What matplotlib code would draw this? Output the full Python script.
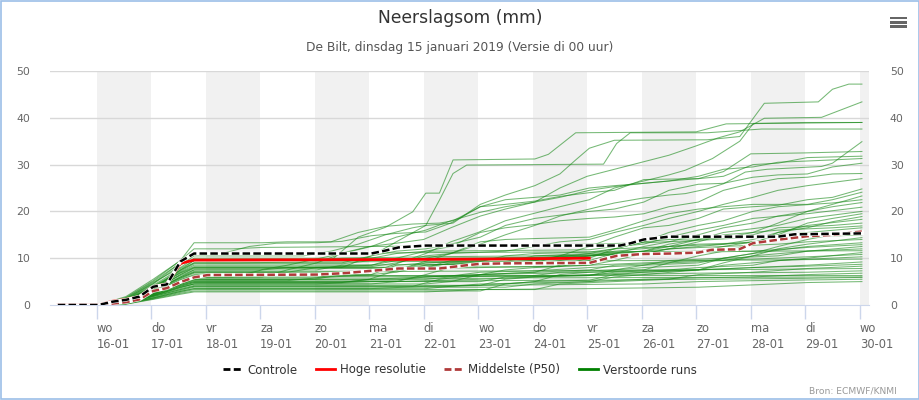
import matplotlib
matplotlib.use("Agg")
import matplotlib.pyplot as plt
from matplotlib.lines import Line2D
from matplotlib.patches import Rectangle

# x axis: days since 15-01-2019 00:00 (local time)
day_ticks = list(range(1, 16))
day_labels = ["wo\n16-01", "do\n17-01", "vr\n18-01", "za\n19-01", "zo\n20-01",
              "ma\n21-01", "di\n22-01", "wo\n23-01", "do\n24-01", "vr\n25-01",
              "za\n26-01", "zo\n27-01", "ma\n28-01", "di\n29-01", "wo\n30-01"]
shaded_days = [1, 3, 5, 7, 9, 11, 13, 15]
y_ticks = [0, 10, 20, 30, 40, 50]

# Controle
ctrl_days = [0.29, 1.04, 1.29, 1.54, 1.79, 2.04, 2.29, 2.54, 2.79, 6.04, 6.29, 6.54,
             7.04, 10.6, 10.8, 11.04, 11.5, 13.5, 13.8, 15.04]
ctrl_mm = [0, 0, 0.7, 1.1, 1.8, 3.9, 4.4, 9.3, 11.0, 11.0, 11.6, 12.3,
           12.7, 12.7, 13.2, 14.0, 14.6, 14.6, 15.1, 15.3]

# Hoge resolutie (tot 25-01)
hres_days = [0.29, 1.04, 1.29, 1.54, 1.79, 2.04, 2.29, 2.54, 2.79, 6.0, 8.0, 10.04]
hres_mm = [0, 0, 0.8, 1.2, 1.8, 3.9, 4.5, 8.9, 9.6, 9.7, 9.8, 10.0]

# Middelste (P50)
p50_days = [0.29, 1.04, 1.29, 1.54, 1.79, 2.04, 2.29, 2.54, 2.79, 3.04, 5.04, 5.54,
            6.04, 6.54, 7.29, 7.79, 8.04, 8.54, 10.04, 10.54, 11.04, 11.54, 12.04,
            12.29, 12.79, 13.04, 13.54, 14.04, 14.54, 15.04]
p50_mm = [0, 0, 0.3, 0.6, 1.2, 3.0, 3.6, 4.9, 5.9, 6.4, 6.5, 6.8,
          7.3, 7.8, 7.8, 8.5, 8.8, 8.9, 9.0, 10.5, 10.9, 11.0, 11.2,
          11.8, 11.9, 13.2, 14.0, 14.7, 15.0, 15.7]

# Verstoorde runs: (dag, mm) knikpunten, alle runs starten op 0
run_start = [(0.29, 0.0), (1.04, 0.0)]
runs = [
    [(1.54, 1.0), (2.04, 3.5), (2.54, 7.5), (2.79, 9.5), (5.3, 9.5), (5.8, 14.5), (6.3, 16.6), (6.8, 19.9), (7.04, 23.9), (7.29, 23.9), (7.54, 31.0), (9.04, 31.2), (9.29, 32.2), (9.79, 36.8), (12.0, 37.0), (12.55, 38.7), (15.04, 39.0)],
    [(1.54, 0.8), (2.04, 3.0), (2.54, 6.5), (2.79, 8.0), (5.5, 8.0), (6.04, 10.5), (6.5, 13.5), (7.04, 17.0), (7.29, 22.4), (7.54, 28.1), (7.79, 29.9), (10.3, 30.1), (10.54, 34.5), (10.79, 36.8), (12.2, 36.8), (13.2, 37.6), (15.04, 37.6)],
    [(1.54, 1.2), (2.04, 4.5), (2.54, 8.5), (2.79, 10.5), (4.8, 10.5), (5.3, 11.5), (5.8, 13.0), (6.3, 15.0), (6.8, 16.5), (7.04, 17.0), (7.54, 17.5), (8.04, 21.5), (8.5, 23.5), (9.04, 25.5), (9.5, 28.0), (9.79, 31.0), (10.04, 33.5), (10.5, 35.2), (12.2, 35.3), (12.8, 36.0), (13.25, 43.1), (14.24, 43.4), (14.5, 46.1), (14.8, 47.2), (15.04, 47.2)],
    [(1.54, 0.6), (2.04, 2.8), (2.54, 6.0), (2.79, 7.5), (4.0, 7.5), (4.5, 8.5), (5.3, 10.5), (6.0, 12.5), (6.5, 13.2), (7.0, 14.0), (7.5, 16.5), (8.04, 19.0), (8.5, 20.5), (9.04, 22.0), (9.5, 25.0), (10.0, 27.5), (10.5, 29.0), (11.0, 30.5), (11.5, 32.0), (12.0, 34.0), (12.4, 35.7), (12.8, 37.0), (13.25, 39.9), (14.3, 40.1), (15.04, 43.4)],
    [(1.54, 0.5), (2.04, 2.2), (2.54, 4.5), (2.79, 5.5), (5.0, 5.5), (5.5, 6.5), (6.3, 8.0), (7.04, 11.0), (7.5, 13.5), (8.0, 15.5), (8.5, 18.0), (9.0, 19.5), (9.5, 21.0), (10.04, 22.5), (10.5, 25.0), (11.04, 26.5), (11.5, 27.8), (11.8, 28.8), (12.3, 31.3), (12.8, 35.0), (13.05, 38.8), (14.0, 39.0), (15.04, 39.0)],
    [(1.54, 0.4), (2.04, 2.0), (2.54, 4.0), (2.79, 4.8), (5.5, 4.8), (6.0, 5.5), (6.8, 8.5), (7.5, 11.0), (8.04, 13.0), (8.5, 15.0), (9.04, 17.0), (9.5, 19.0), (10.04, 20.5), (10.5, 21.8), (11.0, 22.8), (11.5, 23.5), (11.8, 23.8), (12.2, 24.8), (12.5, 25.9), (12.9, 28.4), (13.3, 29.0), (14.3, 29.6), (14.5, 30.3), (15.04, 34.9)],
    [(1.54, 0.9), (2.04, 3.2), (2.54, 5.0), (2.79, 6.0), (4.04, 6.0), (4.5, 7.5), (5.04, 9.0), (5.5, 11.0), (6.04, 12.5), (6.5, 14.5), (7.04, 16.0), (7.5, 18.0), (8.04, 19.8), (8.5, 21.0), (9.04, 22.0), (9.5, 23.0), (10.04, 24.5), (10.5, 25.3), (11.04, 26.0), (11.5, 26.5), (12.04, 27.0), (12.5, 28.5), (13.0, 32.3), (14.0, 32.5), (15.04, 32.8)],
    [(1.54, 1.5), (2.04, 5.0), (2.54, 9.0), (2.79, 11.0), (3.3, 11.0), (3.8, 12.5), (4.3, 13.2), (5.04, 13.3), (5.5, 13.6), (6.04, 14.8), (6.5, 15.3), (7.04, 15.6), (7.5, 17.5), (8.04, 21.0), (8.5, 21.5), (9.04, 22.2), (9.5, 23.2), (10.04, 24.0), (10.5, 24.5), (11.04, 26.8), (11.5, 26.9), (12.04, 27.0), (12.5, 27.5), (13.04, 30.0), (13.5, 30.3), (14.04, 31.5), (15.04, 31.8)],
    [(1.54, 1.8), (2.04, 5.5), (2.54, 9.5), (2.79, 13.3), (4.04, 13.3), (4.5, 13.5), (5.3, 13.5), (5.8, 15.5), (6.3, 16.8), (6.8, 17.3), (7.29, 17.5), (7.54, 18.0), (8.04, 21.0), (8.5, 22.5), (9.04, 23.0), (9.5, 23.5), (10.04, 25.0), (10.5, 25.5), (11.04, 26.0), (11.5, 26.5), (12.04, 27.5), (12.5, 29.0), (13.04, 29.5), (13.5, 30.5), (14.5, 31.0), (15.04, 31.3)],
    [(1.54, 1.1), (2.04, 4.0), (2.54, 7.5), (2.79, 9.0), (5.5, 9.0), (6.04, 10.5), (6.5, 11.5), (7.04, 12.0), (7.5, 13.0), (8.04, 14.5), (8.5, 17.0), (9.04, 18.5), (9.5, 19.2), (10.04, 20.0), (10.5, 20.5), (11.04, 22.0), (11.5, 24.5), (12.04, 25.8), (12.5, 26.0), (13.04, 27.3), (13.5, 27.8), (14.04, 28.0), (14.5, 29.5), (15.04, 30.3)],
    [(1.54, 0.7), (2.04, 3.0), (2.54, 5.8), (2.79, 7.0), (4.5, 7.0), (5.04, 8.0), (6.04, 8.5), (6.5, 10.0), (7.04, 11.5), (7.5, 12.5), (8.04, 15.5), (8.5, 16.5), (9.04, 17.2), (9.5, 18.0), (10.04, 18.5), (10.5, 18.8), (11.04, 19.5), (11.5, 21.0), (12.04, 22.0), (12.5, 24.5), (13.04, 26.0), (13.5, 27.0), (14.04, 27.3), (14.5, 28.0), (15.04, 28.1)],
    [(1.54, 0.5), (2.04, 2.5), (2.54, 4.2), (2.79, 5.0), (6.5, 5.0), (7.04, 6.5), (7.5, 8.0), (8.04, 8.5), (9.04, 9.0), (9.5, 10.5), (10.04, 12.5), (10.5, 14.5), (11.04, 16.5), (11.5, 17.0), (12.04, 18.5), (12.5, 20.5), (13.04, 21.0), (13.5, 21.3), (14.04, 22.5), (14.5, 23.0), (15.04, 24.8)],
    [(1.54, 1.0), (2.04, 3.8), (2.54, 7.0), (2.79, 8.5), (6.04, 8.5), (6.5, 9.5), (7.04, 10.0), (7.5, 11.0), (8.04, 13.5), (8.5, 14.0), (9.04, 14.2), (10.04, 14.5), (10.5, 16.0), (11.04, 18.0), (11.5, 19.5), (12.04, 20.5), (12.5, 21.0), (13.04, 21.5), (14.04, 21.5), (14.5, 22.5), (15.04, 24.1)],
    [(1.54, 0.3), (2.04, 1.8), (2.54, 3.3), (2.79, 4.0), (6.8, 4.0), (7.3, 5.5), (8.04, 6.5), (8.5, 7.5), (9.04, 8.0), (10.04, 8.5), (10.5, 9.5), (11.04, 11.0), (11.5, 12.0), (12.04, 13.5), (12.5, 15.0), (13.04, 15.5), (13.5, 17.5), (14.04, 20.0), (14.5, 21.5), (15.04, 23.3)],
    [(1.54, 0.6), (2.04, 2.6), (2.54, 5.0), (2.79, 6.0), (3.5, 6.0), (4.04, 7.5), (4.5, 8.0), (9.5, 8.2), (10.04, 9.5), (10.5, 11.0), (11.04, 12.5), (11.5, 13.5), (12.04, 15.0), (12.5, 16.5), (13.04, 17.5), (13.5, 19.0), (14.04, 20.0), (14.5, 21.0), (15.04, 21.9)],
    [(1.54, 1.3), (2.04, 4.8), (2.54, 8.0), (2.79, 10.0), (6.04, 10.0), (6.5, 11.0), (7.04, 11.5), (10.04, 11.8), (10.5, 12.5), (11.04, 13.0), (11.5, 14.5), (12.04, 16.0), (12.5, 17.0), (13.04, 18.5), (14.04, 19.5), (15.04, 20.9)],
    [(1.54, 0.8), (2.04, 3.4), (2.54, 6.3), (2.79, 7.5), (5.04, 7.5), (5.5, 8.5), (9.04, 8.8), (9.5, 9.5), (10.04, 10.5), (10.5, 11.5), (11.5, 12.5), (12.04, 14.0), (12.5, 15.5), (13.5, 17.0), (14.04, 18.5), (15.04, 20.0)],
    [(1.54, 0.3), (2.04, 1.5), (2.54, 2.9), (2.79, 3.5), (7.04, 3.5), (7.5, 4.0), (8.5, 4.5), (9.04, 5.0), (9.5, 6.5), (10.04, 7.0), (11.04, 7.5), (11.5, 9.0), (12.04, 10.5), (12.5, 11.5), (13.04, 13.0), (13.5, 15.5), (14.04, 16.5), (14.5, 17.8), (15.04, 18.9)],
    [(1.54, 0.7), (2.04, 2.9), (2.54, 5.6), (2.79, 6.8), (5.5, 6.8), (6.04, 7.5), (7.04, 8.0), (7.5, 9.5), (9.04, 10.0), (10.04, 10.5), (11.04, 11.5), (11.5, 13.0), (12.04, 14.0), (13.04, 15.0), (13.5, 16.5), (14.5, 17.0), (15.04, 17.5)],
    [(1.54, 0.5), (2.04, 2.3), (2.54, 4.4), (2.79, 5.2), (4.5, 5.2), (5.04, 5.8), (6.04, 6.5), (6.5, 8.5), (7.04, 9.0), (8.04, 9.3), (8.5, 10.5), (9.04, 11.0), (10.04, 11.3), (10.5, 12.0), (11.04, 13.5), (11.5, 14.0), (12.5, 14.3), (13.04, 15.5), (13.5, 16.0), (14.5, 16.5), (15.04, 16.9)],
    [(1.54, 0.4), (2.04, 2.0), (2.54, 3.8), (2.79, 4.5), (7.04, 4.5), (7.5, 5.0), (8.04, 6.5), (9.04, 7.0), (9.5, 8.5), (10.04, 10.0), (10.5, 12.0), (11.04, 13.5), (11.5, 15.5), (12.04, 17.0), (12.5, 18.0), (13.04, 20.0), (13.5, 21.0), (14.5, 21.8), (15.04, 22.5)],
    [(1.54, 0.9), (2.04, 3.6), (2.54, 6.8), (2.79, 8.0), (7.04, 8.0), (7.5, 9.0), (8.5, 9.3), (9.04, 10.5), (10.04, 11.0), (10.5, 12.0), (11.5, 12.5), (12.04, 13.0), (13.04, 13.3), (13.5, 15.0), (14.04, 17.5), (14.5, 18.5), (15.04, 19.5)],
    [(1.54, 0.6), (2.04, 2.5), (2.54, 4.9), (2.79, 5.8), (5.04, 5.8), (5.5, 7.0), (6.5, 7.5), (7.04, 9.0), (8.04, 9.5), (8.5, 10.0), (9.5, 10.3), (10.04, 11.0), (11.04, 11.5), (11.5, 12.5), (12.5, 13.0), (13.04, 14.0), (13.5, 15.5), (14.04, 17.0), (15.04, 18.3)],
    [(1.54, 1.6), (2.04, 5.2), (2.54, 9.5), (2.79, 12.0), (3.5, 12.0), (4.04, 12.3), (6.04, 12.5), (8.04, 12.7), (10.04, 13.0), (11.04, 13.3), (12.04, 13.8), (13.04, 14.5), (14.04, 15.5), (15.04, 16.5)],
    [(1.54, 0.4), (2.04, 1.9), (2.54, 3.5), (2.79, 4.2), (8.04, 4.2), (8.5, 5.5), (9.04, 6.0), (10.04, 6.3), (10.5, 7.5), (11.04, 8.0), (12.04, 8.5), (12.5, 10.0), (13.04, 11.0), (13.5, 12.5), (14.04, 14.0), (14.5, 15.0), (15.04, 16.0)],
    [(1.54, 1.2), (2.04, 4.2), (2.54, 7.8), (2.79, 9.5), (5.04, 9.5), (5.5, 10.0), (7.04, 10.3), (9.04, 10.5), (10.04, 10.7), (11.04, 11.5), (12.04, 12.5), (13.04, 13.5), (14.04, 14.5), (15.04, 15.2)],
    [(1.54, 0.7), (2.04, 2.7), (2.54, 5.4), (2.79, 6.5), (6.04, 6.5), (6.5, 7.0), (7.04, 8.5), (8.04, 9.0), (9.04, 9.5), (10.04, 10.5), (11.04, 11.0), (11.5, 12.0), (12.5, 12.5), (13.04, 13.5), (14.04, 14.5), (15.04, 15.0)],
    [(1.54, 0.2), (2.04, 1.3), (2.54, 2.5), (2.79, 3.0), (8.04, 3.0), (8.5, 4.5), (9.04, 5.0), (10.04, 5.3), (10.5, 6.5), (11.04, 7.0), (12.04, 7.5), (12.5, 9.0), (13.04, 10.5), (13.5, 12.0), (14.04, 13.0), (15.04, 14.4)],
    [(1.54, 0.9), (2.04, 3.3), (2.54, 6.5), (2.79, 7.8), (6.5, 7.8), (7.04, 8.5), (8.04, 9.0), (9.04, 9.5), (9.5, 10.5), (11.04, 11.0), (12.04, 11.5), (12.5, 12.5), (13.5, 13.0), (14.04, 13.5), (15.04, 14.0)],
    [(1.54, 0.5), (2.04, 2.4), (2.54, 4.6), (2.79, 5.5), (7.04, 5.5), (7.5, 6.0), (9.04, 6.3), (9.5, 7.0), (10.5, 7.5), (11.04, 8.5), (12.04, 9.0), (12.5, 10.0), (13.04, 11.0), (14.04, 12.5), (15.04, 13.3)],
    [(1.54, 1.0), (2.04, 3.9), (2.54, 7.2), (2.79, 8.8), (5.5, 8.8), (6.04, 9.5), (7.04, 10.0), (9.04, 10.2), (10.04, 10.5), (11.04, 11.0), (12.04, 11.3), (13.04, 11.5), (14.04, 12.3), (15.04, 12.9)],
    [(1.54, 0.4), (2.04, 2.1), (2.54, 4.0), (2.79, 4.8), (5.5, 4.8), (6.04, 5.5), (7.04, 6.0), (8.04, 6.5), (9.04, 7.0), (10.04, 7.5), (10.5, 8.5), (11.5, 9.0), (12.5, 9.5), (13.04, 10.5), (14.04, 11.5), (15.04, 12.5)],
    [(1.54, 0.6), (2.04, 2.8), (2.54, 5.2), (2.79, 6.2), (7.5, 6.2), (8.04, 7.0), (9.04, 7.3), (10.04, 8.0), (11.04, 8.5), (11.5, 9.5), (12.5, 10.0), (13.5, 10.5), (14.04, 11.5), (15.04, 12.0)],
    [(1.54, 1.4), (2.04, 4.6), (2.54, 9.0), (2.79, 10.8), (5.04, 11.0), (7.04, 11.2), (9.04, 11.3), (11.04, 11.4), (13.04, 11.5), (15.04, 11.6)],
    [(1.54, 0.3), (2.04, 1.6), (2.54, 3.1), (2.79, 3.8), (8.5, 3.8), (9.04, 4.5), (10.04, 5.0), (10.5, 6.0), (11.04, 6.5), (12.04, 7.5), (12.5, 8.5), (13.04, 9.0), (14.04, 10.0), (15.04, 11.2)],
    [(1.54, 0.8), (2.04, 3.1), (2.54, 6.0), (2.79, 7.2), (6.04, 7.2), (7.04, 7.8), (8.04, 8.0), (9.04, 8.2), (10.04, 8.5), (11.04, 9.0), (12.04, 9.5), (13.04, 9.8), (14.04, 10.3), (15.04, 10.8)],
    [(1.54, 0.5), (2.04, 2.2), (2.54, 4.2), (2.79, 5.0), (8.04, 5.0), (8.5, 6.0), (10.04, 6.3), (10.5, 7.0), (11.5, 7.5), (12.04, 8.0), (13.04, 8.5), (13.5, 9.5), (15.04, 10.3)],
    [(1.54, 1.1), (2.04, 3.7), (2.54, 7.4), (2.79, 9.0), (3.5, 9.0), (5.04, 9.2), (7.04, 9.3), (9.04, 9.4), (11.04, 9.5), (13.04, 9.6), (15.04, 9.8)],
    [(1.54, 0.4), (2.04, 2.0), (2.54, 3.7), (2.79, 4.5), (6.04, 4.5), (6.5, 5.0), (8.04, 5.5), (9.04, 6.0), (10.04, 6.5), (11.04, 7.0), (12.04, 7.5), (13.04, 8.0), (14.04, 8.5), (15.04, 9.2)],
    [(1.54, 0.6), (2.04, 2.6), (2.54, 5.0), (2.79, 6.0), (7.04, 6.0), (8.04, 6.5), (10.04, 7.0), (11.04, 7.3), (12.04, 7.5), (13.04, 8.0), (14.04, 8.3), (15.04, 8.7)],
    [(1.54, 0.3), (2.04, 1.4), (2.54, 2.7), (2.79, 3.3), (9.04, 3.3), (9.5, 4.5), (10.5, 5.0), (11.5, 5.5), (12.04, 6.5), (13.04, 7.0), (14.04, 7.8), (15.04, 8.3)],
    [(1.54, 0.8), (2.04, 3.0), (2.54, 5.8), (2.79, 7.0), (5.04, 7.0), (7.04, 7.2), (9.04, 7.3), (11.04, 7.5), (13.04, 7.6), (15.04, 7.8)],
    [(1.54, 0.5), (2.04, 2.3), (2.54, 4.4), (2.79, 5.3), (6.5, 5.3), (7.04, 6.0), (9.04, 6.2), (10.5, 6.5), (12.04, 6.8), (14.04, 7.0), (15.04, 7.3)],
    [(1.54, 0.4), (2.04, 1.8), (2.54, 3.3), (2.79, 4.0), (7.5, 4.0), (8.04, 4.5), (10.04, 5.0), (11.04, 5.5), (12.04, 5.8), (13.04, 6.0), (14.04, 6.5), (15.04, 6.8)],
    [(1.54, 0.7), (2.04, 2.8), (2.54, 5.3), (2.79, 6.3), (15.04, 6.3)],
    [(1.54, 0.4), (2.04, 2.0), (2.54, 3.8), (2.79, 4.5), (5.04, 4.5), (6.04, 5.0), (8.04, 5.2), (10.04, 5.3), (12.04, 5.5), (14.04, 5.7), (15.04, 5.9)],
    [(1.54, 0.3), (2.04, 1.5), (2.54, 2.9), (2.79, 3.5), (6.04, 3.5), (7.04, 4.0), (9.04, 4.3), (11.04, 4.5), (12.04, 5.0), (13.04, 5.2), (15.04, 5.5)],
    [(1.54, 0.2), (2.04, 1.2), (2.54, 2.3), (2.79, 2.8), (7.04, 2.8), (8.04, 3.3), (10.04, 3.5), (12.04, 3.8), (13.04, 4.3), (14.04, 4.8), (15.04, 5.0)],
    [(1.54, 0.5), (2.04, 2.4), (2.54, 4.6), (2.79, 5.5), (5.04, 5.5), (7.04, 5.6), (9.04, 5.8), (15.04, 6.0)],
    [(1.54, 0.9), (2.04, 3.5), (2.54, 6.9), (2.79, 8.2), (6.04, 8.2), (6.5, 9.0), (7.04, 10.5), (7.5, 11.0), (8.5, 11.5), (9.04, 12.5), (9.5, 13.5), (10.04, 14.0), (10.5, 15.5), (11.04, 17.0), (11.5, 18.5), (12.04, 20.0), (12.5, 21.5), (13.04, 23.0), (13.5, 24.5), (14.04, 25.5), (15.04, 27.0)],
]

grey_txt = "#666666"

fig = plt.figure(figsize=(9.2, 4.0), dpi=100)
ax = fig.add_axes([50 / 920, 95 / 400, 819 / 920, 234 / 400])

for d in shaded_days:
    ax.axvspan(d, d + 1, color="#f1f1f1", lw=0, zorder=0)

for v in y_ticks[1:]:
    ax.axhline(v, color="#d8d8d8", lw=1, zorder=1)

# perturbed runs
for run in runs:
    pts = run_start + run
    ax.plot([p[0] for p in pts], [p[1] for p in pts], color="#1a8a1a",
            lw=0.75, alpha=0.6, zorder=2)

# P50, HRES, control (dashed lines get a white underlay)
ax.plot(p50_days, p50_mm, color="white", lw=2.6, zorder=3)
ax.plot(p50_days, p50_mm, color="#b03a3a", lw=1.8, dashes=(3, 1.3), zorder=3)
ax.plot(hres_days, hres_mm, color="#ff0000", lw=2.0, zorder=4)
ax.plot(ctrl_days, ctrl_mm, color="white", lw=2.6, zorder=5)
ax.plot(ctrl_days, ctrl_mm, color="black", lw=1.8, dashes=(3, 1.3), zorder=5)

ax.set_xlim(0.147, 15.17)
ax.set_ylim(0, 50)
ax.set_yticks(y_ticks)
ax.set_xticks(day_ticks)
ax.set_xticklabels(day_labels, ha="left", linespacing=1.35)

for s in ["top", "right", "left"]:
    ax.spines[s].set_visible(False)
ax.spines["bottom"].set_color("#ccd6eb")
ax.tick_params(axis="x", length=10, color="#ccd6eb", width=1, pad=2,
               labelsize=8.3, labelcolor=grey_txt)
ax.tick_params(axis="y", length=0, pad=14, labelsize=7.8, labelcolor=grey_txt)

ax2 = ax.twinx()
ax2.set_ylim(0, 50)
ax2.set_yticks(y_ticks)
for s in ["top", "right", "left", "bottom"]:
    ax2.spines[s].set_visible(False)
ax2.tick_params(axis="y", length=0, pad=15, labelsize=7.8, labelcolor=grey_txt)

fig.text(0.5, 1 - 18 / 400, "Neerslagsom (mm)", ha="center", va="center",
         fontsize=12.3, color="#333333")
fig.text(0.5, 1 - 47 / 400, "De Bilt, dinsdag 15 januari 2019 (Versie di 00 uur)",
         ha="center", va="center", fontsize=8.8, color="#555555")
fig.text(897 / 920, 1 - 391 / 400, "Bron: ECMWF/KNMI", ha="right", va="center",
         fontsize=6.6, color="#999999")

handles = [
    Line2D([], [], color="black", lw=2, dashes=(2.5, 1.2)),
    Line2D([], [], color="#ff0000", lw=2),
    Line2D([], [], color="#b03a3a", lw=2, dashes=(2.5, 1.2)),
    Line2D([], [], color="#008000", lw=2),
]
fig.legend(handles, ["Controle", "Hoge resolutie", "Middelste (P50)", "Verstoorde runs"],
           loc="center", bbox_to_anchor=(0.5, 1 - 370 / 400), ncol=4, frameon=False,
           fontsize=8.5, handlelength=1.6, handletextpad=0.45, columnspacing=1.55,
           labelcolor="#333333")

# menu icon
for yb in [16.7, 21.0, 25.2]:
    fig.add_artist(Rectangle((890.5 / 920, 1 - (yb + 2.6) / 400), 17 / 920, 2.6 / 400,
                             transform=fig.transFigure, color="#666666", lw=0))

fig.add_artist(Rectangle((0.0006, 0.0013), 0.9988, 0.9974, transform=fig.transFigure,
                         fill=False, ec="#9cbfe8", lw=1.2))

fig.savefig("out.png", dpi=100, facecolor="white")
